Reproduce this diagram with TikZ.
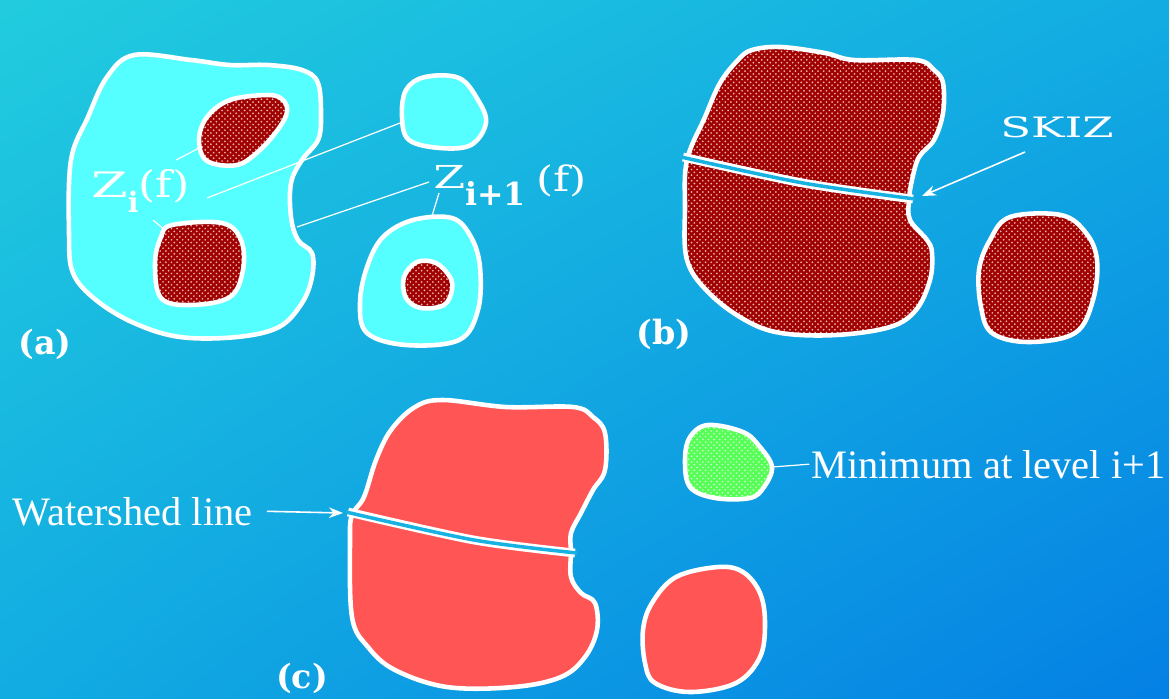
\documentclass[tikz,border=0pt]{standalone}
\usepackage{fontspec}
\newfontfamily\tagfont{DejaVu Serif}
\newfontfamily\notefont{Liberation Serif}
\usetikzlibrary{patterns.meta, shadings, arrows.meta}
\definecolor{bgtl}{RGB}{34,204,222}
\definecolor{bgmid}{RGB}{18,172,226}
\definecolor{bgbr}{RGB}{4,128,228}
\definecolor{poolcyan}{RGB}{85,255,255}
\definecolor{basinred}{RGB}{160,0,0}
\definecolor{dotpink}{RGB}{232,178,178}
\definecolor{floodred}{RGB}{255,85,85}
\definecolor{mingreen}{RGB}{85,255,85}
\definecolor{dotgreen}{RGB}{200,255,200}
\definecolor{gapblue}{RGB}{24,178,226}
\tikzdeclarepattern{
  name=speckle,
  type=uncolored,
  bounding box={(-0.6pt,-0.6pt) and (2.2pt,2.2pt)},
  tile size={(3.2pt,3.2pt)},
  code={\fill (0pt,0pt) circle (0.55pt); \fill (1.6pt,1.6pt) circle (0.55pt);}
}

\begin{document}
\begin{tikzpicture}[x=0.02cm, y=-0.02cm,
    rim/.style={draw=white, line width=2.6pt, line join=round},
    pool/.style={rim, fill=poolcyan},
    basin/.style={rim, preaction={fill=basinred}, pattern=speckle, pattern color=dotpink},
    flood/.style={rim, fill=floodred},
    seed/.style={rim, preaction={fill=mingreen}, pattern=speckle, pattern color=dotgreen},
    lead/.style={white, line width=0.7pt},
    pointer/.style={white, line width=0.9pt, -{Stealth[length=8pt, width=6pt]}},
    ridge/.style={white, line width=5pt},
    ridgecore/.style={gapblue, line width=2pt},
    tag/.style={text=white, font=\tagfont\bfseries\fontsize{19}{19}\selectfont, inner sep=0pt},
    sym/.style={text=white, font=\tagfont\fontsize{20}{20}\selectfont, inner sep=0pt, anchor=base west},
    note/.style={text=white, font=\notefont\fontsize{23}{23}\selectfont, inner sep=0pt, anchor=base west}
]
\useasboundingbox (0,0) rectangle (1169,698);
\shade[upper left=bgtl, upper right=bgmid, lower left=bgmid, lower right=bgbr] (0,0) rectangle (1169,698);

% (a) catchment basins at level i
\path[pool] plot[smooth cycle, tension=0.6] coordinates {(134,55) (191,60) (230,65) (268,65) (302,70) (318,83) (321,117) (318,140) (302,160) (291,183) (291,217) (298,240) (312,253) (312,277) (302,303) (279,327) (237,337) (180,337) (134,323) (96,300) (73,273) (69,233) (71,160) (88,117) (107,77)};
\path[basin] plot[smooth cycle, tension=0.6] coordinates {(268,95) (283,100) (287,112) (279,128) (260,150) (237,165) (207,161) (199,140) (207,117) (230,100)};
\path[basin] plot[smooth cycle, tension=0.6] coordinates {(172,225) (222,223) (241,240) (243,270) (230,297) (191,305) (161,298) (155,263) (161,237)};
\path[pool] plot[smooth cycle, tension=0.6] coordinates {(425,77) (459,78) (478,100) (486,123) (471,145) (440,148) (409,140) (402,117) (406,90)};
\path[pool] plot[smooth cycle, tension=0.6] coordinates {(413,220) (452,218) (471,237) (480,267) (478,310) (459,340) (406,345) (367,333) (360,303) (367,267) (383,237)};
\path[basin] plot[smooth cycle, tension=0.6] coordinates {(417,262) (436,263) (450,277) (452,290) (444,305) (421,308) (406,298) (404,277)};

\node[sym] (zi) at (91,197) {\scalebox{1.5}[1]{Z}\raisebox{-9pt}{\bfseries\fontsize{16}{16}\selectfont i}\fontsize{21}{21}\selectfont\scalebox{1.2}[1]{(f)}};
\node[sym] (zinext) at (433,188) {\fontsize{18}{18}\selectfont\scalebox{1.45}[1]{Z}\raisebox{-10pt}{\bfseries\fontsize{18}{18}\selectfont i+1}\hspace{6pt}\raisebox{-2pt}{\fontsize{20}{20}\selectfont\scalebox{1.25}[1]{(f)}}};
\node[tag] (taga) at (45,344) {(a)};

\coordinate (zi-a) at (176,160);
\coordinate (zi-b) at (207,198);
\coordinate (zi-c) at (153,220);
\coordinate (zn-a) at (429,182);
\coordinate (zn-b) at (439,193);
\coordinate (upperred) at (199,148);
\coordinate (topcirc) at (400,123);
\coordinate (lowerred) at (165,230);
\coordinate (dent) at (297,227);
\coordinate (ring) at (432,216);
\draw[lead] (zi-a) -- (upperred);
\draw[lead] (zi-b) -- (topcirc);
\draw[lead] (zi-c) -- (lowerred);
\draw[lead] (zn-a) -- (dent);
\draw[lead] (zn-b) -- (ring);

% (b) SKIZ
\path[basin] plot[smooth cycle, tension=0.6] coordinates {(752,50) (781,47) (825,53) (854,60) (916,60) (934,70) (943,83) (943,113) (934,140) (919,157) (912,180) (909,200) (910,220) (927,240) (932,253) (930,280) (916,310) (890,327) (836,335) (781,333) (745,320) (709,293) (687,260) (685,207) (687,160) (705,117) (720,83) (738,60)};
\path[basin] plot[smooth cycle, tension=0.6] coordinates {(1010,217) (1061,215) (1086,233) (1097,260) (1093,300) (1075,333) (1028,342) (992,333) (981,307) (979,270) (990,240)};
\draw[ridge] plot[smooth] coordinates {(683,157) (803,183) (913,199)};
\draw[ridgecore] plot[smooth] coordinates {(681,157) (803,183) (915,199)};

\node[text=white, font=\tagfont\fontsize{16}{16}\selectfont, inner sep=0pt] (skiz) at (1057,127) {\scalebox{1.6}[1]{SKIZ}};
\node[tag] (tagb) at (664,334) {(b)};
\coordinate (skiztail) at (1025,152);
\coordinate (skiztip) at (922,196);
\draw[pointer] (skiztail) -- (skiztip);

% (c) watershed line
\path[flood] plot[smooth cycle, tension=0.6] coordinates {(443,400) (506,407) (573,407) (593,417) (605,433) (605,470) (593,490) (581,513) (571,533) (571,552) (571,577) (581,593) (595,603) (597,630) (585,657) (561,677) (514,687) (447,687) (395,670) (368,647) (352,617) (350,540) (352,515) (364,497) (376,460) (391,430) (415,407)};
\path[flood] plot[smooth cycle, tension=0.6] coordinates {(676,577) (718,567) (743,572) (760,593) (765,623) (760,657) (736,683) (690,692) (655,683) (645,663) (643,630) (652,603)};
\path[seed] plot[smooth cycle, tension=0.6] coordinates {(708,425) (743,432) (760,447) (772,467) (764,487) (750,498) (715,498) (690,487) (685,460) (690,437)};
\draw[ridge] plot[smooth] coordinates {(348,512) (474,540) (575,553)};
\draw[ridgecore] plot[smooth] coordinates {(346,512) (474,540) (577,553)};

\node[note] (shedlbl) at (12,525) {Watershed line};
\node[note] (minlbl) at (811,478) {Minimum at level i+1};
\node[tag] (tagc) at (302,678) {(c)};
\coordinate (shedtip) at (343,513);
\coordinate (seededge) at (772,467);
\draw[pointer] ([xshift=8pt]shedlbl.east) -- (shedtip);
\draw[lead] (seededge) -- ([xshift=-1pt]minlbl.west);
\end{tikzpicture}
\end{document}
